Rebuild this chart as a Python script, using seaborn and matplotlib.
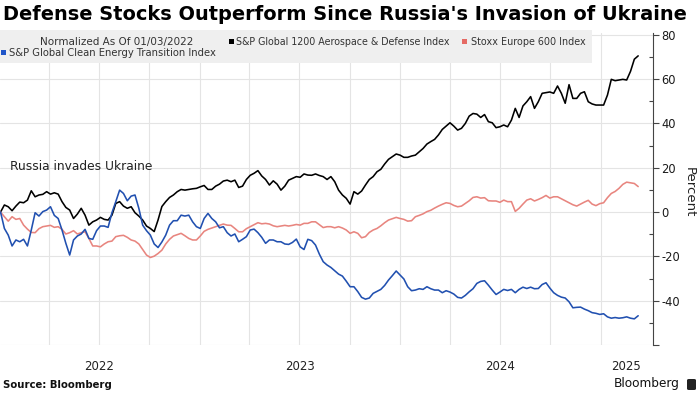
import numpy as np
import pandas as pd
import matplotlib
matplotlib.use("Agg")
import matplotlib.pyplot as plt
import matplotlib.dates as mdates
from matplotlib import transforms
from matplotlib.patches import Rectangle, FancyBboxPatch
import seaborn as sns

# ---------------- data (weekly, normalized to 01/03/2022, percent) ----------------
defense = [
    0, 3.2, 2.4, 0.6, 2.7, 4.5, 4.2, 5.4, 9.6, 6.9,
    7.7, 8.0, 9.2, 8.1, 8.7, 8.1, 4.7, 2.1, 0.9, -2.9,
    -0.9, 1.7, -1.4, -5.9, -4.4, -3.6, -2.4, -3.3, -3.6, -1.4,
    3.9, 4.7, 2.7, 1.7, 2.4, -0.3, -1.8, -3.6, -6.3, -7.4,
    -8.8, -3.6, 2.5, 4.7, 6.6, 7.7, 9.2, 10.2, 9.9, 10.2,
    10.5, 10.7, 11.4, 12.0, 10.2, 10.2, 11.7, 12.6, 14.0, 14.4,
    13.7, 14.4, 11.1, 11.7, 14.7, 16.6, 17.5, 18.7, 16.3, 14.7,
    12.2, 14.1, 12.6, 9.9, 11.7, 14.4, 15.2, 16.0, 15.7, 17.2,
    16.7, 16.6, 17.2, 16.5, 16.0, 14.7, 16.0, 13.7, 9.9, 7.7,
    6.2, 3.6, 9.2, 8.1, 9.5, 12.2, 14.7, 16.0, 18.2, 19.3,
    21.7, 23.8, 25.0, 26.2, 25.7, 24.7, 24.7, 25.3, 25.7, 27.2,
    28.7, 30.7, 31.8, 32.8, 34.8, 37.3, 38.8, 40.3, 38.8, 37.0,
    37.8, 40.0, 43.3, 44.5, 44.2, 42.7, 44.0, 40.8, 40.3, 38.1,
    38.5, 39.3, 38.5, 41.5, 46.8, 42.7, 47.9, 49.8, 52.1, 46.8,
    49.8, 53.6, 53.9, 54.2, 53.6, 56.9, 53.6, 49.1, 57.5, 51.3,
    51.3, 53.6, 54.3, 49.8, 48.8, 48.3, 48.3, 48.3, 52.8, 59.9,
    59.3, 59.6, 59.9, 59.6, 63.5, 69.0, 70.5,
]
stoxx = [
    0, -2.1, -4.1, -2.1, -3.3, -2.9, -5.9, -7.7, -9.2, -9.3,
    -7.5, -6.6, -6.3, -6.0, -6.9, -6.6, -7.8, -9.9, -9.3, -8.4,
    -9.9, -9.3, -8.9, -11.9, -15.3, -15.3, -15.7, -14.4, -13.4, -13.1,
    -11.1, -10.7, -10.5, -11.4, -12.6, -13.1, -14.4, -16.9, -19.4, -20.5,
    -19.9, -18.7, -17.2, -14.4, -12.3, -10.8, -10.2, -9.6, -10.7, -11.9,
    -12.6, -12.6, -10.8, -8.7, -7.8, -7.2, -6.6, -6.0, -5.4, -5.9,
    -6.0, -7.4, -8.9, -8.9, -7.5, -6.6, -5.7, -4.8, -5.3, -5.1,
    -5.4, -6.2, -6.6, -6.3, -6.0, -6.3, -6.0, -5.6, -5.9, -5.1,
    -5.1, -4.4, -4.4, -5.7, -7.0, -6.6, -6.6, -7.1, -6.6, -7.2,
    -8.1, -9.6, -8.9, -9.6, -11.6, -11.1, -9.2, -8.1, -7.4, -6.2,
    -4.8, -3.6, -3.0, -2.4, -2.9, -3.3, -4.1, -3.9, -2.1, -1.5,
    -0.8, 0.2, 0.8, 1.8, 2.7, 3.5, 4.2, 3.9, 3.0, 2.4,
    2.7, 3.9, 5.1, 6.6, 6.9, 6.3, 6.5, 5.1, 5.0, 5.0,
    4.4, 5.4, 4.7, 4.7, 0.3, 1.7, 3.6, 5.4, 6.0, 5.0,
    5.7, 6.5, 7.5, 6.3, 6.9, 6.9, 6.0, 5.1, 4.2, 3.3,
    2.7, 3.6, 4.5, 5.3, 3.6, 2.9, 3.8, 4.2, 6.5, 8.4,
    9.3, 10.7, 12.5, 13.5, 13.2, 12.9, 11.5,
]
clean = [
    0, -7.4, -10.4, -15.3, -12.6, -13.4, -12.3, -15.3, -8.1, -0.3,
    -1.8, 0.2, 0.9, 2.4, -1.5, -2.9, -8.1, -14.1, -19.4, -12.6,
    -10.8, -9.9, -7.8, -11.9, -12.3, -8.4, -6.3, -6.3, -6.9, -0.3,
    4.7, 9.9, 8.4, 5.1, 7.2, 7.7, 1.7, -5.9, -8.4, -10.4,
    -14.4, -16.0, -13.5, -10.4, -5.9, -3.9, -3.9, -1.4, -1.8, -1.4,
    -4.4, -6.6, -7.4, -2.9, -0.6, -2.9, -4.4, -7.1, -6.6, -9.3,
    -10.8, -9.9, -13.4, -12.3, -11.1, -8.1, -7.7, -9.3, -11.4, -14.1,
    -12.6, -12.6, -13.4, -13.4, -14.4, -14.6, -13.7, -12.2, -15.7, -16.9,
    -12.3, -12.9, -14.9, -19.0, -22.4, -23.9, -25.0, -26.5, -28.0, -28.9,
    -31.2, -33.7, -33.7, -35.9, -38.5, -39.3, -38.8, -36.7, -35.8, -34.9,
    -33.1, -30.7, -28.7, -26.6, -28.4, -30.2, -33.7, -35.5, -35.2, -34.6,
    -34.9, -33.7, -34.6, -35.2, -35.2, -36.4, -35.5, -36.1, -37.0, -38.5,
    -38.8, -37.6, -36.0, -34.6, -32.2, -31.3, -31.0, -33.0, -35.2, -37.2,
    -36.1, -34.9, -35.4, -34.9, -36.4, -34.9, -33.9, -34.5, -33.9, -34.6,
    -34.5, -32.7, -31.9, -34.3, -36.4, -37.6, -38.4, -38.8, -40.5, -43.2,
    -43.0, -42.9, -43.8, -44.5, -45.4, -45.7, -46.2, -45.9, -47.3, -47.9,
    -47.6, -47.9, -47.7, -47.3, -47.9, -48.2, -46.8,
]
series_names = [
    "S&P Global 1200 Aerospace & Defense Index",
    "Stoxx Europe 600 Index",
    "S&P Global Clean Energy Transition Index",
]
line_colors = ["#000000", "#e8857f", "#2150b0"]
square_colors = ["#000000", "#e56a64", "#1f55c8"]
year_labels = ["2022", "2023", "2024", "2025"]
year_label_dates = ["2022-07-02", "2023-07-02", "2024-07-02", "2025-02-15"]
ytick_values = list(range(-60, 81, 20))

n = len(defense)
dates = pd.date_range("2022-01-03", periods=n, freq="7D")
df = pd.DataFrame({
    "date": np.tile(dates, 3),
    "value": np.concatenate([defense, stoxx, clean]),
    "series": np.repeat(series_names, n),
})

# ---------------- style ----------------
sns.set_style("white")
plt.rcParams["font.family"] = ["DejaVu Sans"]

W, H = 700, 394
fig = plt.figure(figsize=(W / 100, H / 100), dpi=100)
fig.patch.set_facecolor("white")

ax_top, ax_bot, ax_right = 32.6, 345.0, 653.0
ax = fig.add_axes([0, 1 - ax_bot / H, ax_right / W, (ax_bot - ax_top) / H])

sns.lineplot(data=df, x="date", y="value", hue="series", hue_order=series_names,
             palette=dict(zip(series_names, line_colors)), linewidth=1.15,
             legend=False, ax=ax)

ax.set_xlim(pd.Timestamp("2022-01-02"), pd.Timestamp("2025-04-06"))
ax.set_ylim(-60, 81)
ax.set_xlabel("")
ax.set_ylabel("")

quarters = pd.date_range("2022-04-01", "2025-01-01", freq="QS")
ax.set_xticks(quarters)
ax.set_xticklabels([])
ax.tick_params(axis="x", length=0)

ax.yaxis.tick_right()
ax.set_yticks(ytick_values)
ax.set_yticklabels(["" if v == -60 else str(v) for v in ytick_values])
ax.set_yticks(list(range(-50, 80, 20)), minor=True)
ax.tick_params(axis="y", which="major", direction="out", length=4, width=0.8,
               color="#444444", labelsize=8.3, pad=2, labelcolor="#1a1a1a")
ax.tick_params(axis="y", which="minor", direction="in", length=3, width=0.8,
               color="#444444")

ax.grid(True, which="major", color="#e4e4e4", linewidth=0.8)
ax.set_axisbelow(True)
for s in ["left", "top", "bottom"]:
    ax.spines[s].set_visible(False)
ax.spines["right"].set_color("#444444")
ax.spines["right"].set_linewidth(0.8)

# ---------------- helpers ----------------
renderer = fig.canvas.get_renderer()


def fx(x):
    return x / W


def fy(y):
    return 1 - y / H


def ftext(x, y, s, width=None, **kw):
    t = fig.text(fx(x), fy(y), s, **kw)
    if width is not None:
        bb = t.get_window_extent(renderer)
        t.set_fontsize(t.get_fontsize() * width / bb.width)
    return t


def square(x, y, size, color):
    fig.add_artist(Rectangle((fx(x), fy(y + size)), size / W, size / H,
                             transform=fig.transFigure, facecolor=color,
                             edgecolor="none", zorder=4))


# title
ftext(3, 15, "Defense Stocks Outperform Since Russia's Invasion of Ukraine",
      width=687, fontsize=15, fontweight="bold", color="#000000",
      ha="left", va="center")

# legend box
fig.add_artist(Rectangle((0, fy(63)), 592 / W, 33 / H, transform=fig.transFigure,
                         facecolor="#efefef", edgecolor="none", zorder=1))
ftext(40, 42, "Normalized As Of 01/03/2022", width=153, fontsize=7,
      color="#333333", ha="left", va="center", zorder=5)
square(229, 39, 5, square_colors[0])
ftext(236, 42, series_names[0], width=216, fontsize=7, color="#333333",
      ha="left", va="center", zorder=5)
square(462, 39, 5, square_colors[1])
ftext(471, 42, series_names[1], width=115, fontsize=7, color="#333333",
      ha="left", va="center", zorder=5)
square(1, 50, 5, square_colors[2])
ftext(9, 53, series_names[2], width=208, fontsize=7, color="#333333",
      ha="left", va="center", zorder=5)

# annotation
ftext(10, 167, "Russia invades Ukraine", width=142, fontsize=9,
      color="#222222", ha="left", va="center")

# axis label
ftext(689, 192, "Percent", fontsize=9.5, rotation=270, color="#222222",
      ha="center", va="center")

# year labels
blend = transforms.blended_transform_factory(ax.transData, fig.transFigure)
for lab, d in zip(year_labels, year_label_dates):
    ax.text(mdates.date2num(pd.Timestamp(d)), fy(367), lab, transform=blend,
            ha="center", va="center", fontsize=8.5, color="#222222",
            clip_on=False)

# footer
ftext(3, 385, "Source: Bloomberg", width=109, fontsize=7.5, fontweight="bold",
      color="#111111", ha="left", va="center")
ftext(614, 384, "Bloomberg", width=66, fontsize=10, color="#111111",
      ha="left", va="center")
fig.add_artist(FancyBboxPatch((fx(687), fy(390)), 9 / W, 11 / H,
                              boxstyle="round,pad=0,rounding_size=0.003",
                              transform=fig.transFigure, facecolor="#222222",
                              edgecolor="none", zorder=4))

fig.savefig("out.png", dpi=100, facecolor="white")
